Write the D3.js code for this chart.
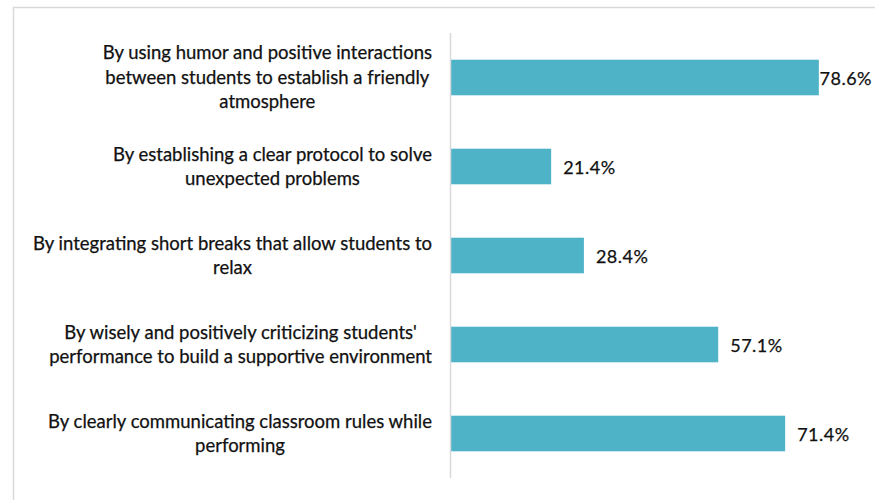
<!DOCTYPE html>
<html>
<head>
<meta charset="utf-8">
<script src="https://cdn.jsdelivr.net/npm/d3@7"></script>
<style>
  html, body { margin: 0; padding: 0; background: #fff; }
  svg { display: block; }
</style>
</head>
<body>
<div id="chart"></div>
<script>
// Ways of building a positive classroom climate, share of respondents (%)
const categories = [
  ["By using humor and positive interactions", "between students to establish a friendly", "atmosphere"],
  ["By establishing a clear protocol to solve", "unexpected problems"],
  ["By integrating short breaks that allow students to", "relax"],
  ["By wisely and positively criticizing students'", "performance to build a supportive environment"],
  ["By clearly communicating classroom rules while", "performing"]
];
const values = [78.6, 21.4, 28.4, 57.1, 71.4];
const valueLabels = ["78.6%", "21.4%", "28.4%", "57.1%", "71.4%"];

const W = 875, H = 500;
const font = "Lato, 'Open Sans', sans-serif";
const textColor = "#111";
const barColor = "#4FB3C8";

const svg = d3.select("#chart").append("svg")
  .attr("width", W).attr("height", H);

// chart frame (top and left edges visible)
svg.append("rect")
  .attr("x", 13.5).attr("y", 7.5)
  .attr("width", W + 20).attr("height", H + 20)
  .attr("fill", "none").attr("stroke", "#d9d9d9").attr("stroke-width", 1.5);

const plot = { left: 451, top: 33, bottom: 478 };
const ids = d3.range(values.length);

const x = d3.scaleLinear().domain([0, 100]).range([plot.left, plot.left + 468]);
const y = d3.scaleBand().domain(ids).range([plot.top, plot.bottom])
  .paddingInner(0.6).paddingOuter(0.3);

// bars
svg.append("g").selectAll("rect").data(ids).join("rect")
  .attr("x", x(0))
  .attr("y", i => y(i))
  .attr("width", i => x(values[i]) - x(0))
  .attr("height", y.bandwidth())
  .attr("fill", barColor);

// category axis line
svg.append("line")
  .attr("x1", plot.left - 0.5).attr("x2", plot.left - 0.5)
  .attr("y1", plot.top).attr("y2", plot.bottom)
  .attr("stroke", "#d9d9d9").attr("stroke-width", 1.5);

// category labels: centred lines, block right-aligned to the axis
const labelRight = 432;
const lineH = 24.5;
const labels = svg.append("g").attr("font-family", font)
  .attr("font-size", 18.5).attr("fill", textColor)
  .attr("stroke", textColor).attr("stroke-width", 0.25);

ids.forEach(i => {
  const lines = categories[i];
  const g = labels.append("g");
  const texts = lines.map((s, k) => g.append("text").text(s)
    .attr("text-anchor", "middle")
    .attr("dy", "0.35em")
    .attr("y", y(i) + y.bandwidth() / 2 + (k - (lines.length - 1) / 2) * lineH));
  const maxW = d3.max(texts, t => t.node().getComputedTextLength());
  texts.forEach(t => t.attr("x", labelRight - maxW / 2));
});

// value labels
const vl = svg.append("g").attr("font-family", font)
  .attr("font-size", 18).attr("fill", textColor)
  .attr("stroke", textColor).attr("stroke-width", 0.25)
  .attr("letter-spacing", 0.5);
ids.forEach(i => {
  const t = vl.append("text").text(valueLabels[i])
    .attr("dy", "0.35em")
    .attr("y", y(i) + y.bandwidth() / 2 + 1);
  const w = t.node().getComputedTextLength();
  t.attr("x", Math.min(x(values[i]) + 12, 872 - w));
});
</script>
</body>
</html>
